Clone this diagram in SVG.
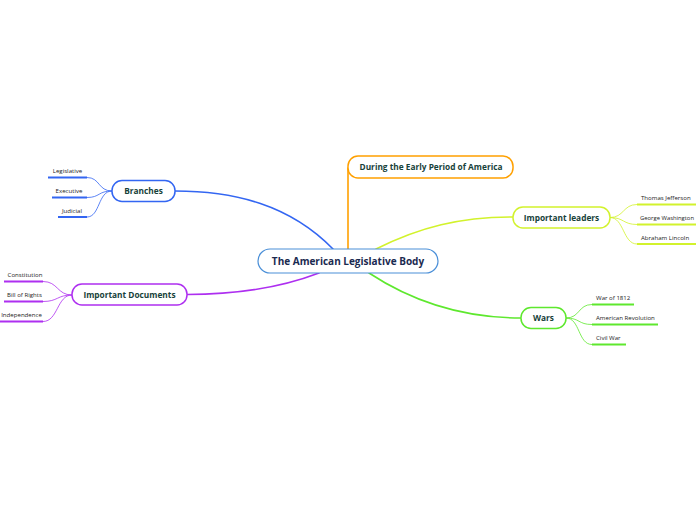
<svg xmlns="http://www.w3.org/2000/svg" width="696" height="520" viewBox="0 0 696 520">
<style>
text{font-family:"Open Sans","Noto Sans","Liberation Sans",sans-serif}
.node{fill:#fff;stroke-width:1.5}
.ttl{font-size:8.3px;font-weight:bold;fill:#17423a;text-anchor:middle}
.sub{font-size:6.1px;fill:#222}
.c{fill:none;stroke-width:1.6;stroke-linecap:round}
.s{fill:none;stroke-width:0.8}
.u{fill:none;stroke-width:2}
.blue{stroke:#3366f2}.purple{stroke:#ae2ff0}.orange{stroke:#ffa000}.yellow{stroke:#d2f22c}.green{stroke:#5ee82e}
</style>
<g id="connectors">
<path class="c blue" d="M175,191 C235,191 290,205 333,249"/>
<path class="c purple" d="M187,294.5 C245,294.5 285,286 319,273"/>
<path class="c orange" d="M348,249 L348,168"/>
<path class="c yellow" d="M376,249 C420,227 460,217 513,217"/>
<path class="c green" d="M369,273 C410,300 460,318 521,318"/>
<path class="s blue" d="M112,191 C98,191 100,177.5 87,177.5"/>
<path class="s blue" d="M112,191 C98,191 100,197.5 87,197.5"/>
<path class="s blue" d="M112,191 C98,191 100,217 87,217"/>
<path class="s purple" d="M72,295 C57,295 58,281.5 43,281.5"/>
<path class="s purple" d="M72,295 C57,295 58,301.5 43,301.5"/>
<path class="s purple" d="M72,295 C57,295 58,321.5 43,321.5"/>
<path class="s yellow" d="M610,217.5 C624,217.5 623,204.5 637,204.5"/>
<path class="s yellow" d="M610,217.5 C624,217.5 623,224.5 637,224.5"/>
<path class="s yellow" d="M610,217.5 C624,217.5 623,244 637,244"/>
<path class="s green" d="M566,318 C580,318 578,304.5 592,304.5"/>
<path class="s green" d="M566,318 C580,318 578,324.5 592,324.5"/>
<path class="s green" d="M566,318 C580,318 578,344.5 592,344.5"/>
</g>
<g id="central">
<rect x="258" y="249" width="180" height="24" rx="12" fill="#fff" stroke="#4a8fd8" stroke-width="1.2"/>
<text x="348" y="264.5" font-size="10" font-weight="bold" fill="#1a2a50" text-anchor="middle">The American Legislative Body</text>
</g>
<g id="branches">
<rect class="node blue" x="112" y="180.5" width="63" height="21" rx="10"/>
<text class="ttl" x="143.5" y="194">Branches</text>
</g>
<g id="legislative"><line class="u blue" x1="48" y1="177.5" x2="87" y2="177.5"/><text class="sub" x="67.5" y="173" text-anchor="middle">Legislative</text></g>
<g id="executive"><line class="u blue" x1="52" y1="197.5" x2="87" y2="197.5"/><text class="sub" x="69" y="193" text-anchor="middle">Executive</text></g>
<g id="judicial"><line class="u blue" x1="58" y1="217" x2="87" y2="217"/><text class="sub" x="72" y="212.5" text-anchor="middle">Judicial</text></g>
<g id="documents">
<rect class="node purple" x="72" y="284" width="115" height="21" rx="10"/>
<text class="ttl" x="129.5" y="297.5">Important Documents</text>
</g>
<g id="constitution"><line class="u purple" x1="4" y1="281.5" x2="43" y2="281.5"/><text class="sub" x="25" y="277" text-anchor="middle">Constitution</text></g>
<g id="billofrights"><line class="u purple" x1="4" y1="301.5" x2="43" y2="301.5"/><text class="sub" x="24.5" y="297" text-anchor="middle">Bill of Rights</text></g>
<g id="independence"><line class="u purple" x1="0" y1="321.5" x2="43" y2="321.5"/><text class="sub" x="21.5" y="317" text-anchor="middle">Independence</text></g>
<g id="early">
<rect class="node orange" x="348" y="156" width="165" height="22" rx="10"/>
<text class="ttl" x="431" y="170" font-size="7.9">During the Early Period of America</text>
</g>
<g id="leaders">
<rect class="node yellow" x="513" y="207" width="97" height="21" rx="10"/>
<text class="ttl" x="561.5" y="220.5">Important leaders</text>
</g>
<g id="jefferson"><line class="u yellow" x1="637" y1="204.5" x2="696" y2="204.5"/><text class="sub" x="641" y="200">Thomas Jefferson</text></g>
<g id="washington"><line class="u yellow" x1="637" y1="224.5" x2="696" y2="224.5"/><text class="sub" x="640" y="220" textLength="54" lengthAdjust="spacingAndGlyphs">George Washington</text></g>
<g id="lincoln"><line class="u yellow" x1="637" y1="244" x2="696" y2="244"/><text class="sub" x="641" y="239.5">Abraham Lincoln</text></g>
<g id="wars">
<rect class="node green" x="521" y="307.5" width="45" height="21" rx="10"/>
<text class="ttl" x="543.5" y="321">Wars</text>
</g>
<g id="war1812"><line class="u green" x1="592" y1="304.5" x2="634" y2="304.5"/><text class="sub" x="596" y="300">War of 1812</text></g>
<g id="revolution"><line class="u green" x1="592" y1="324.5" x2="658" y2="324.5"/><text class="sub" x="596" y="320">American Revolution</text></g>
<g id="civilwar"><line class="u green" x1="592" y1="344.5" x2="626" y2="344.5"/><text class="sub" x="596" y="340">Civil War</text></g>
</svg>
